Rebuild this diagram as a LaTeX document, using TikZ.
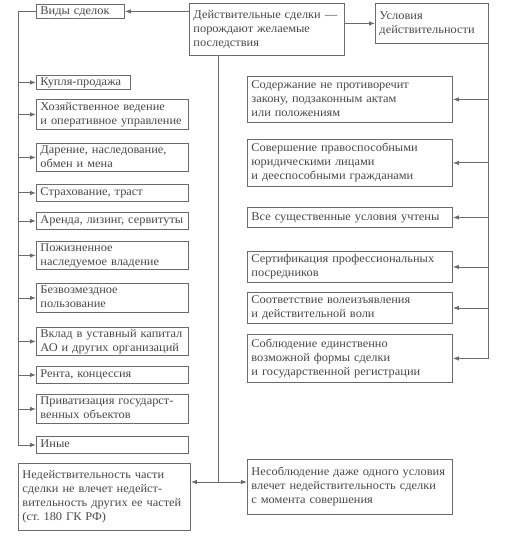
\documentclass[tikz,border=0pt]{standalone}
\usepackage{fontspec}
\setmainfont{Liberation Serif}
\newfontfamily\dfont[FakeStretch=1.05]{Liberation Serif}
\usetikzlibrary{arrows.meta,calc}
\definecolor{tcol}{gray}{0.28}
\definecolor{lcol}{gray}{0.42}
\tikzset{
  bx/.style={draw=lcol, line width=0.9pt, text=tcol, anchor=north west, align=left,
    inner xsep=4pt, inner ysep=0pt, font={\dfont\fontsize{11.8}{14}\selectfont}},
  ln/.style={draw=lcol, line width=0.9pt},
  arr/.style={ln, -{Latex[length=6pt,width=4.5pt]}}
}
\newcommand\bx[6]{%
  \pgfmathsetmacro\tw{#4-8}%
  \node[bx, text width=\tw pt, minimum width=#4pt, minimum height=#5pt] (#1) at (#2,#3)
    {\begin{tabular}{@{}l@{}}#6\end{tabular}};}
\frenchspacing
\begin{document}
\begin{tikzpicture}[x=1pt,y=-1pt]
\useasboundingbox (0,0) rectangle (521,545);
\bx{main}{189}{3}{155}{52}{Действительные сделки —\\порождают желаемые\\последствия}
\bx{usl}{375}{3}{113}{40}{Условия\\действительности}
\bx{vidy}{36}{4}{88}{13}{Виды сделок}
\bx{kup}{36}{75}{94}{13}{Купля-продажа}
\bx{hoz}{36}{99}{152}{30}{Хозяйственное ведение\\и оперативное управление}
\bx{dar}{36}{143}{152}{28}{Дарение, наследование,\\обмен и мена}
\bx{str}{36}{184}{152}{17}{Страхование, траст}
\bx{ar}{36}{212}{152}{17}{Аренда, лизинг, сервитуты}
\bx{poz}{36}{241}{152}{28}{Пожизненное\\наследуемое владение}
\bx{bez}{36}{283}{152}{29}{Безвозмездное\\пользование}
\bx{vkl}{36}{327}{152}{28}{Вклад в уставный капитал\\АО и других организаций}
\bx{ren}{36}{366}{152}{17}{Рента, концессия}
\bx{pri}{36}{394}{152}{29}{Приватизация государст-\\венных объектов}
\bx{inye}{36}{436}{152}{17}{Иные}
\bx{ned}{18}{463}{172}{67}{Недействительность части\\сделки не влечет недейст-\\вительность других ее частей\\(ст.~180 ГК РФ)}
\bx{sod}{247}{76}{205}{46}{Содержание не противоречит\\закону, подзаконным актам\\или положениям}
\bx{sov}{247}{139}{205}{47}{Совершение правоспособными\\юридическими лицами\\и дееспособными гражданами}
\bx{vse}{247}{207}{205}{20}{Все существенные условия учтены}
\bx{ser}{247}{251}{205}{31}{Сертификация профессиональных\\посредников}
\bx{soo}{247}{292}{205}{31}{Соответствие волеизъявления\\и действительной воли}
\bx{sob}{247}{334}{205}{48}{Соблюдение единственно\\возможной формы сделки\\и государственной регистрации}
\bx{nes}{247}{459}{205}{55}{Несоблюдение даже одного условия\\влечет недействительность сделки\\с момента совершения}
% connectors
\draw[arr] (vidy.east -| main.west) -- (vidy.east);
\draw[arr] (usl.west -| main.east) -- (usl.west);
\coordinate (L) at (18,0);
\draw[arr] (vidy.west) -| (L |- inye.west) -- (inye.west);
\foreach \b in {kup,hoz,dar,str,ar,poz,bez,vkl,ren,pri}
  \draw[arr] (L |- \b.west) -- (\b.west);
\coordinate (J) at (218,482);
\draw[ln] (main.south -| J) -- (J);
\draw[arr] (J) -- (J -| ned.east);
\draw[arr] (J) -- (J -| nes.west);
\coordinate (R) at (usl.south east);
\draw[arr] (R) |- (sob.east);
\foreach \b in {sod,sov,vse,ser,soo}
  \draw[arr] (R |- \b.east) -- (\b.east);
\end{tikzpicture}
\end{document}
